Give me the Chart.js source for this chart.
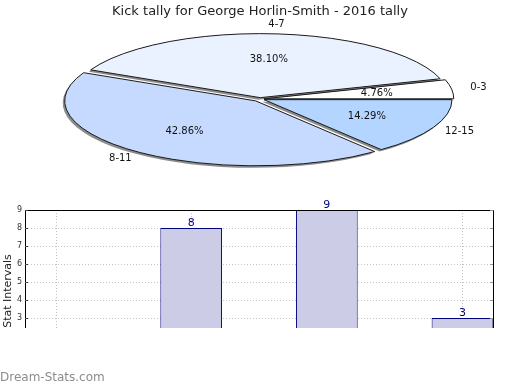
<!DOCTYPE html>
<html>
<head>
<meta charset="utf-8">
<script src="https://cdn.jsdelivr.net/npm/chart.js@4.4.1/dist/chart.umd.min.js"></script>
<style>
  body { margin: 0; background: #fff; }
  #page { position: relative; width: 520px; height: 390px; overflow: hidden; }
  #pie { position: absolute; left: 0; top: 0; }
  #barWrap { position: absolute; left: 0; top: 195px; width: 520px; height: 133px; overflow: hidden; }
  #mark { position: absolute; left: 0; top: 370px; font: 12px "DejaVu Sans", sans-serif; color: #8c8c8c; }
</style>
</head>
<body>
<div id="page">
  <canvas id="pie" width="520" height="390"></canvas>
  <div id="barWrap"><canvas id="bars" width="520" height="190"></canvas></div>
  <div id="mark">Dream-Stats.com</div>
</div>
<script>
const chartTitle = 'Kick tally for George Horlin-Smith - 2016 tally'
const categories = ['0-3', '4-7', '8-11', '12-15']
const tallies = [1, 8, 9, 3]
const sliceColors = ['#ffffff', '#ebf2ff', '#c6d9fe', '#b4d5ff']
const explode = [16, 16, 28, 18]
const yMin = 0
const yMax = 9

Chart.defaults.font.family = 'DejaVu Sans'
Chart.defaults.color = '#222'

// where the squashed pie sits on the page
const PIE_X = 260
const PIE_Y = 99
const FLAT = 0.34

const total = tallies.reduce((a, b) => a + b, 0)

function squash (ctx) {
  ctx.translate(PIE_X, PIE_Y)
  ctx.scale(1, -FLAT)
}

function labelPos (arc, dist) {
  const mid = (arc.startAngle + arc.endAngle) / 2
  return {
    x: PIE_X + Math.cos(mid) * dist,
    y: PIE_Y - Math.sin(mid) * dist * FLAT
  }
}

const flatPie = {
  id: 'flatPie',
  beforeDatasetsDraw (chart) {
    const ctx = chart.ctx
    const arc = chart.getDatasetMeta(0).data[0]
    ctx.save()
    squash(ctx)
    ctx.translate(-arc.x, -arc.y)
    ctx.shadowColor = 'rgba(0, 0, 0, 0.45)'
    ctx.shadowOffsetX = -2
    ctx.shadowOffsetY = 2
  },
  afterDatasetsDraw (chart) {
    const ctx = chart.ctx
    ctx.restore()
    const arcs = chart.getDatasetMeta(0).data

    // outlines: path built squashed, stroked flat so the line stays 1px
    arcs.forEach(arc => {
      const off = (arc.options.offset || 0) / 4
      const mid = (arc.startAngle + arc.endAngle) / 2
      const sweep = arc.endAngle - arc.startAngle
      const r = arc.outerRadius + off * (1 - Math.sin(Math.min(Math.PI, sweep)))
      ctx.save()
      squash(ctx)
      ctx.translate(Math.cos(mid) * off, Math.sin(mid) * off)
      ctx.beginPath()
      ctx.moveTo(0, 0)
      ctx.arc(0, 0, r, arc.startAngle, arc.endAngle)
      ctx.closePath()
      ctx.restore()
      ctx.lineWidth = 1
      ctx.strokeStyle = '#1a1a1a'
      ctx.stroke()
    })

    ctx.save()
    ctx.font = '10px "DejaVu Sans"'
    ctx.fillStyle = '#111'
    ctx.textAlign = 'center'
    ctx.textBaseline = 'middle'
    arcs.forEach((arc, i) => {
      const off = (arc.options.offset || 0) / 4
      const inner = labelPos(arc, arc.outerRadius * 0.61 + off)
      ctx.fillText((tallies[i] / total * 100).toFixed(2) + '%', inner.x, inner.y)
      const outer = labelPos(arc, arc.outerRadius * 1.16 + off)
      ctx.fillText(categories[i], outer.x, outer.y)
    })
    ctx.restore()
  }
}

new Chart(document.getElementById('pie'), {
  type: 'pie',
  data: {
    labels: categories,
    datasets: [{
      data: tallies,
      backgroundColor: sliceColors,
      borderWidth: 0,
      offset: explode,
      clip: false
    }]
  },
  options: {
    responsive: false,
    animation: false,
    events: [],
    radius: 187,
    rotation: 90,
    plugins: {
      legend: { display: false },
      tooltip: { enabled: false },
      title: {
        display: true,
        text: chartTitle,
        color: '#222',
        font: { size: 13, weight: 'normal' },
        padding: { top: 4, bottom: 0 }
      }
    }
  },
  plugins: [flatPie]
})

const barFrame = {
  id: 'barFrame',
  beforeDatasetsDraw (chart) {
    // vertical dotted grid, behind the bars
    const { ctx, chartArea: { top, bottom } } = chart
    const x = chart.scales.x
    ctx.save()
    ctx.strokeStyle = 'rgba(110, 110, 110, 0.45)'
    ctx.lineWidth = 1
    ctx.setLineDash([1, 2])
    tallies.forEach((v, i) => {
      const px = Math.round(x.getPixelForValue(i)) + 0.5
      ctx.beginPath()
      ctx.moveTo(px, top)
      ctx.lineTo(px, bottom)
      ctx.stroke()
    })
    ctx.restore()
  },
  afterDraw (chart) {
    const { ctx, chartArea: { left, right, top, bottom } } = chart
    const y = chart.scales.y
    ctx.save()
    ctx.strokeStyle = '#000'
    ctx.lineWidth = 1
    ctx.beginPath()
    ctx.moveTo(left + 0.5, bottom)
    ctx.lineTo(left + 0.5, top + 0.5)
    ctx.lineTo(right + 0.5, top + 0.5)
    ctx.lineTo(right + 0.5, bottom)
    ctx.stroke()

    y.ticks.forEach(t => {
      const py = Math.round(y.getPixelForValue(t.value)) + 0.5
      ctx.strokeStyle = '#444'
      ctx.beginPath()
      ctx.moveTo(left, py)
      ctx.lineTo(left + 3, py)
      ctx.stroke()
      ctx.strokeStyle = '#999'
      ctx.beginPath()
      ctx.moveTo(right - 3, py)
      ctx.lineTo(right, py)
      ctx.stroke()
    })

    ctx.fillStyle = '#000080'
    ctx.font = '11px "DejaVu Sans"'
    ctx.textAlign = 'center'
    ctx.textBaseline = 'bottom'
    chart.getDatasetMeta(0).data.forEach((bar, i) => {
      ctx.fillText(String(tallies[i]), bar.x, bar.y + 1)
    })
    ctx.restore()
  }
}

new Chart(document.getElementById('bars'), {
  type: 'bar',
  data: {
    datasets: [{
      data: tallies.map((v, i) => ({ x: i, y: v })),
      backgroundColor: '#ccccE6',
      borderColor: '#000080',
      borderWidth: 1,
      barPercentage: 0.455,
      categoryPercentage: 1
    }]
  },
  options: {
    responsive: false,
    animation: false,
    events: [],
    layout: { padding: { top: 15, right: 27, bottom: 13, left: 0 } },
    plugins: { legend: { display: false }, tooltip: { enabled: false } },
    scales: {
      x: {
        type: 'linear',
        min: -0.225,
        max: 3.225,
        offset: false,
        ticks: { display: false, stepSize: 1 },
        grid: { display: false },
        border: { display: false },
        afterFit: s => { s.height = 0 }
      },
      y: {
        min: yMin,
        max: yMax,
        z: 1,
        ticks: { stepSize: 1, color: '#333', font: { size: 8 }, padding: 3 },
        grid: { color: 'rgba(110, 110, 110, 0.4)', drawTicks: false },
        border: { display: false, dash: [1, 2] },
        title: {
          display: true,
          text: 'Stat Intervals',
          color: '#222',
          font: { size: 11 },
          padding: { top: 2, bottom: 0 }
        },
        afterFit: s => { s.width = 25 }
      }
    }
  },
  plugins: [barFrame]
})
</script>
</body>
</html>
